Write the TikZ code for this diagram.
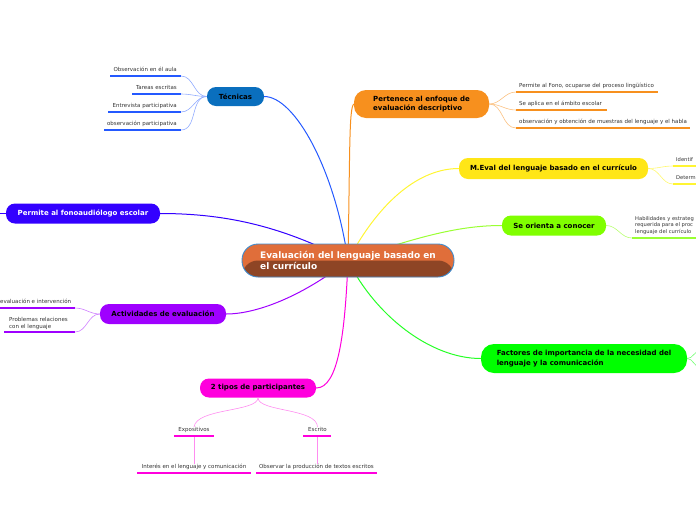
\documentclass[tikz,border=0pt]{standalone}
\usepackage{fontspec}
\setmainfont{DejaVu Sans}
\usetikzlibrary{calc,positioning}
\pgfdeclarelayer{background}
\pgfsetlayers{background,main}

\definecolor{tecblue}{HTML}{0A6FBE}
\definecolor{teclink}{HTML}{2459FF}
\definecolor{penorange}{HTML}{F7901E}
\definecolor{evalyellow}{HTML}{FFE617}
\definecolor{evallink}{HTML}{FFF533}
\definecolor{orlime}{HTML}{80FF00}
\definecolor{facgreen}{HTML}{00FF00}
\definecolor{tipmag}{HTML}{FF00DD}
\definecolor{actpurple}{HTML}{9F00FF}
\definecolor{fonoviolet}{HTML}{3300FF}
\definecolor{cenorange}{HTML}{E06E3A}
\definecolor{cenbrown}{HTML}{8E4525}
\definecolor{cenborder}{HTML}{3F8CCF}
\definecolor{leafgray}{HTML}{333333}

\tikzset{
  topic/.style={rounded corners=9pt, minimum height=19pt, inner sep=0pt,
    font=\fontsize{7}{8.6}\selectfont\bfseries, text=black},
  central/.style={rounded corners=16pt, minimum width=212pt, minimum height=33pt,
    align=left, inner sep=0pt,
    fill=cenorange, draw=cenborder, line width=0.9pt, text=white,
    font=\fontsize{9}{10.6}\selectfont\bfseries,
    path picture={\fill[cenbrown] (path picture bounding box.west) rectangle
      (path picture bounding box.south east);}},
  leaf/.style={font=\fontsize{5.5}{6.5}\selectfont, text=leafgray, inner sep=0pt},
  edgeleaf/.style={leaf, font=\fontsize{5.2}{6.4}\selectfont},
  link/.style={line width=1pt},
  twig/.style={line width=0.6pt},
  uline/.style={line width=2pt},
}

\begin{document}
\begin{tikzpicture}[x=1pt,y=-1pt]
\useasboundingbox (0,0) rectangle (696,520);
\clip (0,0) rectangle (696,520);

% central topic
\node[central] (cen) at (348,260.5) {Evaluación del lenguaje basado en\\el currículo};

% main topics
\node[topic, fill=tecblue, minimum width=57pt] (tec) at (235.5,96.5) {Técnicas};
\node[topic, fill=penorange, minimum width=135pt, minimum height=28pt,
  align=left, rounded corners=12pt] (pert) at (421.5,104) {Pertenece al enfoque de\\evaluación descriptivo};
\node[topic, fill=evalyellow, minimum width=189pt, minimum height=21pt] (meval) at (553.5,168.5)
  {M.Eval del lenguaje basado en el currículo};
\node[topic, fill=orlime, minimum width=104pt, minimum height=20pt] (orien) at (554,225.5) {Se orienta a conocer};
\node[topic, fill=facgreen, minimum width=206pt, minimum height=29pt,
  align=left, rounded corners=13pt, font=\fontsize{7}{9.6}\selectfont\bfseries] (fac) at (584,358.5)
  {Factores de importancia de la necesidad del\\lenguaje y la comunicación};
\node[topic, fill=tipmag, minimum width=116pt] (tip) at (258,388) {2 tipos de participantes};
\node[topic, fill=actpurple, minimum width=126pt, minimum height=20pt] (act) at (163,314) {Actividades de evaluación};
\node[topic, fill=fonoviolet, minimum width=154pt, minimum height=20pt, text=white] (fono) at (83,213.5)
  {Permite al fonoaudiólogo escolar};

% links from the centre
\begin{pgfonlayer}{background}
  \draw[link, teclink] (cen.center) .. controls (335,170) and (295,96.5) .. (tec.east);
  \draw[link, penorange] (cen.center) .. controls (350,150) and (349,108) .. (pert.west);
  \draw[link, evallink] (cen.center) .. controls (380,200) and (420,168.5) .. (meval.west);
  \draw[link, orlime!80!white] (cen.center) .. controls (420,236) and (460,225.5) .. (orien.west);
  \draw[link, facgreen!85!white] (cen.center) .. controls (375,315) and (430,358.5) .. (fac.west);
  \draw[link, tipmag] (cen.center) .. controls (345,335) and (338,388) .. (tip.east);
  \draw[link, actpurple] (cen.center) .. controls (300,298) and (255,314) .. (act.east);
  \draw[link, fonoviolet] (cen.center) .. controls (285,228) and (230,213.5) .. (fono.east);
\end{pgfonlayer}

% Tecnicas
\foreach \n/\yy/\xa/\txt in {1/76/110/Observación en él aula, 2/94/132/Tareas escritas,
    3/112/108/Entrevista participativa, 4/130/104/observación participativa}{
  \coordinate (tecE\n) at (181,\yy);
  \coordinate (tecS\n) at (\xa,\yy);
  \node[leaf, anchor=base east] (tecT\n) at ($(tecE\n)+(-4,-5)$) {\txt};
  \draw[uline, draw=teclink] (tecS\n) -- (tecE\n);
  \draw[twig, teclink!50] (tec.west) to[out=180,in=0] (tecE\n);
}

% Pertenece
\foreach \n/\yy/\xb/\txt in {1/92/658/{Permite al Fono, ocuparse del proceso lingüístico},
    2/110/607/Se aplica en el ámbito escolar,
    3/128/690/observación y obtención de muestras del lenguaje y el habla}{
  \coordinate (penS\n) at (516,\yy);
  \coordinate (penE\n) at (\xb,\yy);
  \node[leaf, anchor=base west] (penT\n) at ($(penS\n)+(3,-5)$) {\txt};
  \draw[uline, draw=penorange] (penS\n) -- (penE\n);
  \draw[twig, penorange!55] (pert.east) to[out=0,in=180] (penS\n);
}

% M.Eval
\foreach \n/\yy/\txt in {1/166/Identif, 2/184/Determ}{
  \coordinate (evS\n) at (673,\yy);
  \coordinate (evE\n) at (700,\yy);
  \node[edgeleaf, anchor=base west] (evT\n) at ($(evS\n)+(3,-5)$) {\txt};
  \draw[uline, draw=evallink] (evS\n) -- (evE\n);
  \draw[twig, evallink!70] (meval.east) to[out=0,in=180] (evS\n);
}

% Se orienta
\coordinate (orS) at (632,238);
\coordinate (orE) at (700,238);
\node[edgeleaf, anchor=south west, align=left] (orT) at ($(orS)+(3,-3.5)$)
  {Habilidades y estrateg\\requerida para el proc\\lenguaje del currículo};
\draw[uline, draw=orlime!80!white] (orS) -- (orE);
\draw[twig, orlime!55] (orien.east) to[out=0,in=180] (orS);

% Factores
\coordinate (facA) at (700,351);
\coordinate (facB) at (700,367);
\draw[twig, facgreen!55] (fac.east) to[out=0,in=180] (facA);
\draw[twig, facgreen!55] (fac.east) to[out=0,in=180] (facB);

% Actividades
\coordinate (actE1) at (75,308);
\coordinate (actS1) at (-2,308);
\coordinate (actE2) at (75,332);
\coordinate (actS2) at (4,332);
\node[leaf, anchor=base west] (actT1) at (0,303) {evaluación e intervención};
\node[leaf, anchor=south west, align=left] (actT2) at (9,329.5) {Problemas relaciones\\con el lenguaje};
\draw[uline, draw=actpurple] (actS1) -- (actE1);
\draw[uline, draw=actpurple] (actS2) -- (actE2);
\draw[twig, actpurple!50] (act.west) to[out=180,in=0] (actE1);
\draw[twig, actpurple!50] (act.west) to[out=180,in=0] (actE2);

% Permite al fono
\coordinate (fonoS) at (-2,213.5);
\draw[twig, fonoviolet] (fono.west) -- (fonoS);

% 2 tipos
\coordinate (expoL) at (174,436);
\coordinate (expoR) at (214,436);
\coordinate (escrL) at (303,436);
\coordinate (escrR) at (331,436);
\coordinate (expoD) at (194,437);
\coordinate (escrD) at (317.5,437);
\coordinate (interL) at (137,473);
\coordinate (interR) at (251,473);
\coordinate (obsL) at (256,473);
\coordinate (obsR) at (377,473);
\node[leaf, anchor=base] (expo) at (194,431.5) {Expositivos};
\node[leaf, anchor=base] (escr) at (317.5,431.5) {Escrito};
\draw[uline, draw=tipmag] (expoL) -- (expoR);
\draw[uline, draw=tipmag] (escrL) -- (escrR);
\draw[twig, tipmag!45] (tip.south) .. controls (258,412) and (196,408) .. (expo.north);
\draw[twig, tipmag!45] (tip.south) .. controls (258,412) and (317.5,408) .. (escr.north);
\node[leaf, anchor=base] (inter) at (194,468.5) {Interés en el lenguaje y comunicación};
\node[leaf, anchor=base] (obs) at (316.5,468.5) {Observar la producción de textos escritos};
\draw[uline, draw=tipmag] (interL) -- (interR);
\draw[uline, draw=tipmag] (obsL) -- (obsR);
\draw[twig, tipmag!45] (expoD) -- (inter.north -| expoD);
\draw[twig, tipmag!45] (escrD) -- (obs.north -| escrD);
\end{tikzpicture}
\end{document}
